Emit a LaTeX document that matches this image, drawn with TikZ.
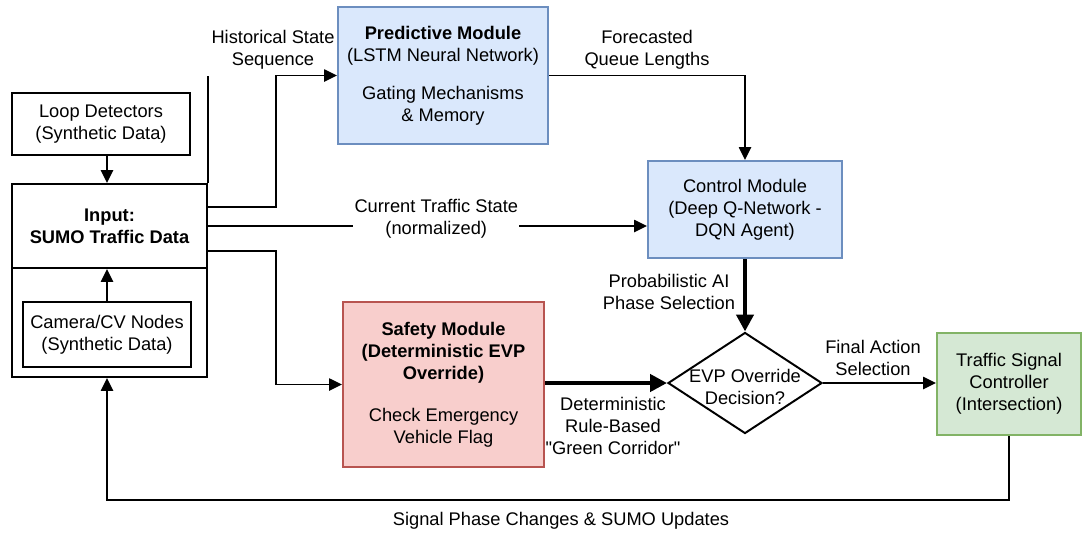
\documentclass[tikz,border=0pt]{standalone}
\usepackage{fontspec}
\setmainfont{Liberation Sans}[Ligatures=TeXOff]
\usetikzlibrary{arrows.meta,calc,shapes.geometric}

\definecolor{predfill}{HTML}{DAE8FC}
\definecolor{preddraw}{HTML}{6C8EBF}
\definecolor{safefill}{HTML}{F8CECC}
\definecolor{safedraw}{HTML}{B85450}
\definecolor{sigfill}{HTML}{D5E8D4}
\definecolor{sigdraw}{HTML}{82B366}

\begin{document}
\begin{tikzpicture}[x=0.025cm, y=-0.025cm,
    every node/.style={font=\fontsize{13}{15.6}\selectfont, align=center},
    box/.style={draw, rectangle, line width=1.4pt, inner sep=0pt},
    bluebox/.style={box, draw=preddraw, fill=predfill},
    flow/.style={line width=1.4pt, -{Triangle[length=0.32cm, width=0.3cm]}},
    bigflow/.style={line width=3pt, -{Triangle[length=0.42cm, width=0.42cm]}}]
    \useasboundingbox (0,0) rectangle (1083,534);

    % Data sources and input
    \node[box, minimum width=4.45cm, minimum height=1.55cm] (loop) at (101,124) {Loop Detectors\\(Synthetic Data)};
    \node[box, minimum width=4.875cm, minimum height=2.1cm, font=\fontsize{13}{15.6}\selectfont\bfseries] (input) at (109.5,226) {Input:\\SUMO Traffic Data};
    \node[box, minimum width=4.875cm, minimum height=2.725cm] (camgroup) at (109.5,322.5) {};
    \node[box, minimum width=4.2cm, minimum height=1.625cm] (camera) at (107,334.5) {Camera/CV Nodes\\(Synthetic Data)};
    \draw[line width=1.4pt] (input.north east) -- ++(0,-107);

    % Modules
    \node[bluebox, minimum width=5.25cm, minimum height=3.425cm] (pred) at (443,75.5) {\rule{0pt}{0.3cm}\textbf{Predictive Module}\\(LSTM Neural Network)\\[0.4cm]Gating Mechanisms\\\& Memory};
    \node[bluebox, minimum width=4.85cm, minimum height=2.425cm] (ctrl) at (745,209.5) {Control Module\\(Deep Q-Network -\\DQN Agent)};
    \node[box, draw=safedraw, fill=safefill, minimum width=5.025cm, minimum height=4.125cm] (safety) at (443.5,384.5) {\textbf{Safety Module}\\\textbf{(Deterministic EVP}\\\textbf{Override)}\\[0.5cm]Check Emergency\\Vehicle Flag};
    \node[draw, diamond, line width=1.4pt, minimum width=3.85cm, minimum height=2.525cm, inner sep=0pt,
        label={[align=center, yshift=-0.1cm]center:EVP Override\\Decision?}] (evp) at (745,383) {};
    \node[box, draw=sigdraw, fill=sigfill, minimum width=3.6cm, minimum height=2.55cm] (tsc) at (1009,384) {Traffic Signal\\Controller\\(Intersection)};

    % Connectors from the input
    \draw[flow] (loop.south -| camera.north) -- (input.north -| camera.north);
    \draw[flow] (camera.north) -- (camera.north |- input.south);
    \draw[flow] ($(input.east)+(0,-19)$) -- ++(68,0) |- (pred.west);
    \draw[flow] (input.east) -- node[pos=0.52, yshift=0.18cm, fill=white, inner sep=1pt] (curlabel) {Current Traffic State\\(normalized)} (input.east -| ctrl.west);
    \draw[flow] ($(input.east)+(0,25)$) -- ++(68,0) |- (safety.west);
    \node (histlabel) at (273,50) {Historical State\\Sequence};

    % Prediction, control and safety
    \draw[flow] (pred.east) -| (ctrl.north);
    \node (fclabel) at (647,50) {Forecasted\\Queue Lengths};
    \draw[bigflow] (ctrl.south) -- (evp.north);
    \node (problabel) at (669,292) {Probabilistic AI\\Phase Selection};
    \draw[bigflow] (safety.east |- evp.west) -- (evp.west);
    \node (detlabel) at (613,426) {Deterministic\\Rule-Based\\"Green Corridor"};
    \draw[flow] (evp.east) -- (evp.east -| tsc.west);
    \node (finallabel) at (873,358) {Final Action\\Selection};

    % Feedback loop
    \draw[flow] (tsc.south) -- ++(0,64) -| (camgroup.south -| camera.north);
    \node (fblabel) at (561,521) {Signal Phase Changes \& SUMO Updates};
\end{tikzpicture}
\end{document}
